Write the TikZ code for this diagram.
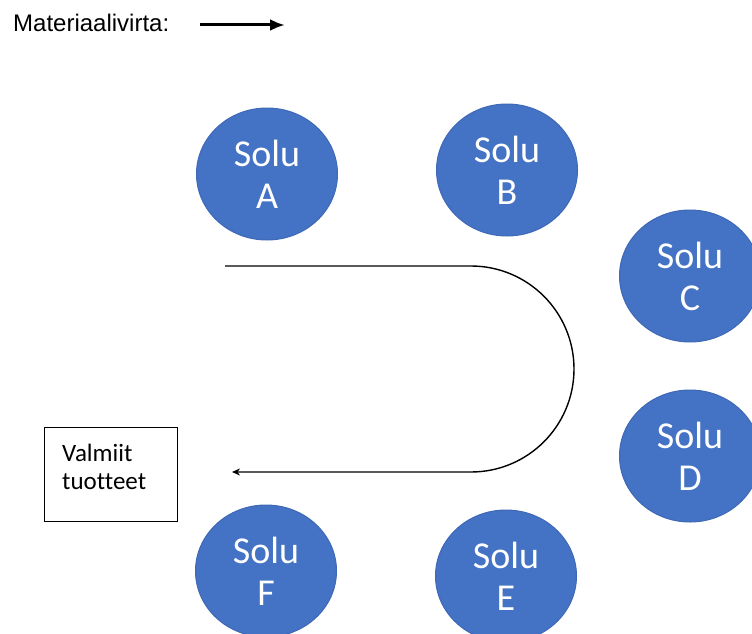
\documentclass[tikz,border=0pt]{standalone}
\usepackage{fontspec}
\setmainfont[Ligatures=NoCommon]{Carlito}
\newfontfamily\legendfont{Liberation Sans}
\usetikzlibrary{arrows.meta,shapes.geometric}
\definecolor{solublue}{HTML}{4472C4}
\definecolor{solurim}{HTML}{3F68B5}
\begin{document}
\begin{tikzpicture}[x=1pt,y=-1pt,
    solu/.style={ellipse,fill=solublue,draw=solurim,line width=1pt,minimum width=141pt,minimum height=132pt,
        inner sep=0pt,text=white,align=center,font=\fontsize{38}{42}\selectfont},
    flow/.style={line width=1.4pt,-{Stealth[length=8pt,width=7pt]}}]
    \useasboundingbox (0,0) rectangle (752,634);
    \node[anchor=base west,inner sep=0pt,font=\legendfont\fontsize{24}{28}\selectfont] (legend) at (13,32) {Materiaalivirta:};%图例文字
    \coordinate (legstart) at (200,25);
    \coordinate (legend end) at (285,25);
    \draw[line width=3pt,-{Latex[length=15pt,width=12pt]}] (legstart) -- (legend end);%图例箭头
    \node[solu] (soluA) at (267,174) {Solu\\A};
    \node[solu] (soluB) at (507,170) {Solu\\B};
    \node[solu] (soluC) at (690,276) {Solu\\C};
    \node[solu] (soluD) at (690,456) {Solu\\D};
    \node[solu] (soluE) at (506,576) {Solu\\E};
    \node[solu] (soluF) at (266,571) {Solu\\F};
    \node[draw,line width=1pt,anchor=north west,minimum width=133pt,minimum height=94pt] (valmiit) at (44,427) {};%成品框
    \node[anchor=north west,inner sep=0pt,align=left,font=\fontsize{25}{28}\selectfont] (valmiit text)
        at ([shift={(18pt,-17pt)}]valmiit.north west) {Valmiit\\tuotteet};
    \coordinate (flowstart) at (225,266);
    \coordinate (flowend) at (232,472);
    \draw[flow] (flowstart) -- (471,266) arc[start angle=90,end angle=-90,radius=103pt] -- (flowend);%物料流
\end{tikzpicture}
\end{document}
